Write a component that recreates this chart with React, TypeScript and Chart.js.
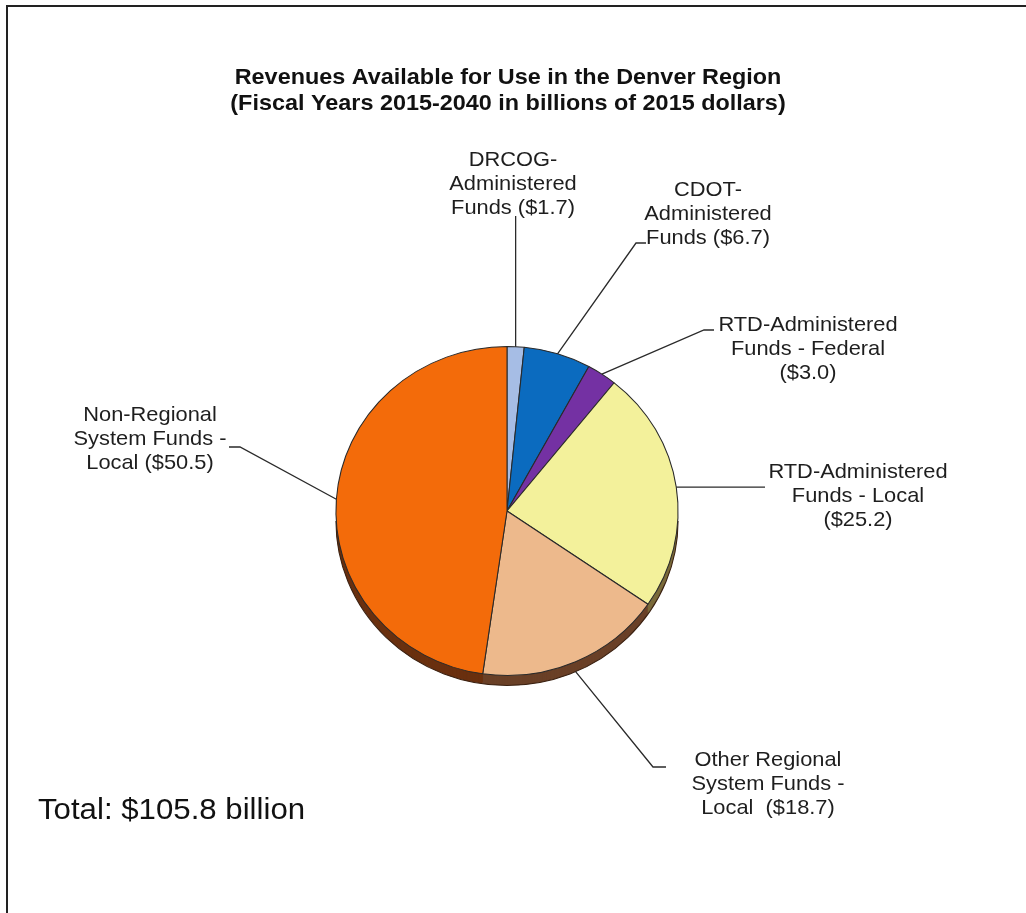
import React, { useEffect, useRef } from "react";
import { Chart, registerables } from "chart.js";

Chart.register(...registerables);

const CATEGORIES = [
  "DRCOG-Administered Funds",
  "CDOT-Administered Funds",
  "RTD-Administered Funds - Federal",
  "RTD-Administered Funds - Local",
  "Other Regional System Funds - Local",
  "Non-Regional System Funds - Local",
];
const VALUES = [1.7, 6.7, 3.0, 25.2, 18.7, 50.5];
const LABEL_TEXT = [
  ["DRCOG-", "Administered", "Funds ({v})"],
  ["CDOT-", "Administered", "Funds ({v})"],
  ["RTD-Administered", "Funds - Federal", "({v})"],
  ["RTD-Administered", "Funds - Local", "({v})"],
  ["Other Regional", "System Funds -", "Local  ({v})"],
  ["Non-Regional", "System Funds -", "Local ({v})"],
];
const COLORS = ["#A6BDE5", "#0B6BBF", "#7431A3", "#F3F19B", "#EDB98C", "#F36B0A"];
const SIDE_COLORS = ["#56647c", "#06396a", "#3d1a57", "#7a6a3a", "#6a4027", "#6a300f"];
const TITLE_LINES = [
  "Revenues Available for Use in the Denver Region",
  "(Fiscal Years 2015-2040 in billions of 2015 dollars)",
];
const TOTAL_TEXT = "Total: $105.8 billion";

// layout of leader lines / label blocks (pixels)
const LABEL_LAYOUT = [
  { ex: "same", ey: 216, hx: null, cx: 513, y0: 160 },
  { ex: 636, ey: 243, hx: 646, cx: 708, y0: 190 },
  { ex: 704, ey: 330, hx: 714, cx: 808, y0: 325 },
  { ex: 765, ey: "same", hx: null, cx: 858, y0: 472 },
  { ex: 653, ey: 767, hx: 666, cx: 768, y0: 760 },
  { ex: 240, ey: 447, hx: 229, cx: 150, y0: 415 },
];

const SX = 1.04; // horizontal stretch of the pie / text
const DEPTH = 10; // 3D side depth

function stretchedText(ctx: CanvasRenderingContext2D, text: string, x: number, y: number, align: CanvasTextAlign) {
  ctx.save();
  ctx.translate(x, y);
  ctx.scale(SX, 1);
  ctx.textAlign = align;
  ctx.fillText(text, 0, 0);
  ctx.restore();
}

const piePlugin = {
  id: "pie3d",
  beforeDatasetsDraw(chart: any) {
    const ctx = chart.ctx as CanvasRenderingContext2D;
    const meta = chart.getDatasetMeta(0);
    const first = meta.data[0];
    const cx = first.x;
    const cy = first.y;
    ctx.save();
    ctx.translate(cx, cy);
    ctx.scale(SX, 1);
    ctx.translate(-cx, -cy);
    // side of the 3D pie
    for (let d = DEPTH; d >= 1; d--) {
      meta.data.forEach((arc: any, i: number) => {
        const p = arc.getProps(["x", "y", "startAngle", "endAngle", "outerRadius"], true);
        ctx.beginPath();
        ctx.moveTo(p.x, p.y + d);
        ctx.arc(p.x, p.y + d, p.outerRadius, p.startAngle, p.endAngle);
        ctx.closePath();
        ctx.fillStyle = SIDE_COLORS[i];
        ctx.fill();
      });
    }
    ctx.beginPath();
    ctx.arc(cx, cy + DEPTH, first.outerRadius, 0, Math.PI);
    ctx.strokeStyle = "#3a2010";
    ctx.lineWidth = 1;
    ctx.stroke();
  },
  afterDatasetsDraw(chart: any) {
    const ctx = chart.ctx as CanvasRenderingContext2D;
    ctx.restore();
    const meta = chart.getDatasetMeta(0);

    // leader lines and labels
    ctx.strokeStyle = "#2a2a2a";
    ctx.lineWidth = 1.3;
    ctx.fillStyle = "#1e1e1e";
    ctx.font = "21px 'Liberation Sans', Arial, sans-serif";
    ctx.textBaseline = "middle";
    meta.data.forEach((arc: any, i: number) => {
      const p = arc.getProps(["x", "y", "startAngle", "endAngle", "outerRadius"], true);
      const mid = (p.startAngle + p.endAngle) / 2;
      let sx = p.x + SX * p.outerRadius * Math.cos(mid);
      let sy = p.y + p.outerRadius * Math.sin(mid);
      if (Math.sin(mid) > 0.3) sy += DEPTH;
      const L = LABEL_LAYOUT[i];
      const ex = L.ex === "same" ? sx : (L.ex as number);
      const ey = L.ey === "same" ? sy : (L.ey as number);
      ctx.beginPath();
      ctx.moveTo(sx, sy);
      ctx.lineTo(ex, ey);
      if (L.hx !== null) ctx.lineTo(L.hx as number, ey);
      ctx.stroke();
      const value = chart.data.datasets[0].data[i] as number;
      const lines = LABEL_TEXT[i].map((s) => s.replace("{v}", "$" + value.toFixed(1)));
      lines.forEach((s, k) => stretchedText(ctx, s, L.cx, L.y0 + k * 24, "center"));
    });

    // title
    ctx.fillStyle = "#111";
    ctx.font = "bold 22.5px 'Liberation Sans', Arial, sans-serif";
    ctx.textBaseline = "middle";
    TITLE_LINES.forEach((s, k) => stretchedText(ctx, s, 508, 78 + k * 26, "center"));

    // total
    ctx.font = "30px 'Liberation Sans', Arial, sans-serif";
    ctx.fillStyle = "#111";
    stretchedText(ctx, TOTAL_TEXT, 38, 811, "left");

    // frame
    ctx.strokeStyle = "#222";
    ctx.lineWidth = 2;
    ctx.beginPath();
    ctx.moveTo(7, 940);
    ctx.lineTo(7, 6);
    ctx.lineTo(1040, 6);
    ctx.stroke();
  },
};

export default function App() {
  const ref = useRef<HTMLCanvasElement | null>(null);
  useEffect(() => {
    if (!ref.current) return;
    const chart = new Chart(ref.current, {
      type: "pie",
      data: {
        labels: CATEGORIES,
        datasets: [
          {
            data: VALUES,
            backgroundColor: COLORS,
            borderColor: "#2a2a2a",
            borderWidth: 1,
            clip: false as any,
          },
        ],
      },
      options: {
        responsive: false,
        animation: false,
        layout: { padding: { left: 342, right: 354, top: 346, bottom: 237 } },
        plugins: {
          legend: { display: false },
          tooltip: { enabled: false },
          title: { display: false },
        },
      },
      plugins: [piePlugin],
    });
    return () => chart.destroy();
  }, []);
  return (
    <div style={{ position: "absolute", left: 0, top: 0, width: 1026, height: 913, background: "#fff" }}>
      <canvas ref={ref} width={1026} height={913} style={{ width: 1026, height: 913, display: "block" }} />
    </div>
  );
}
